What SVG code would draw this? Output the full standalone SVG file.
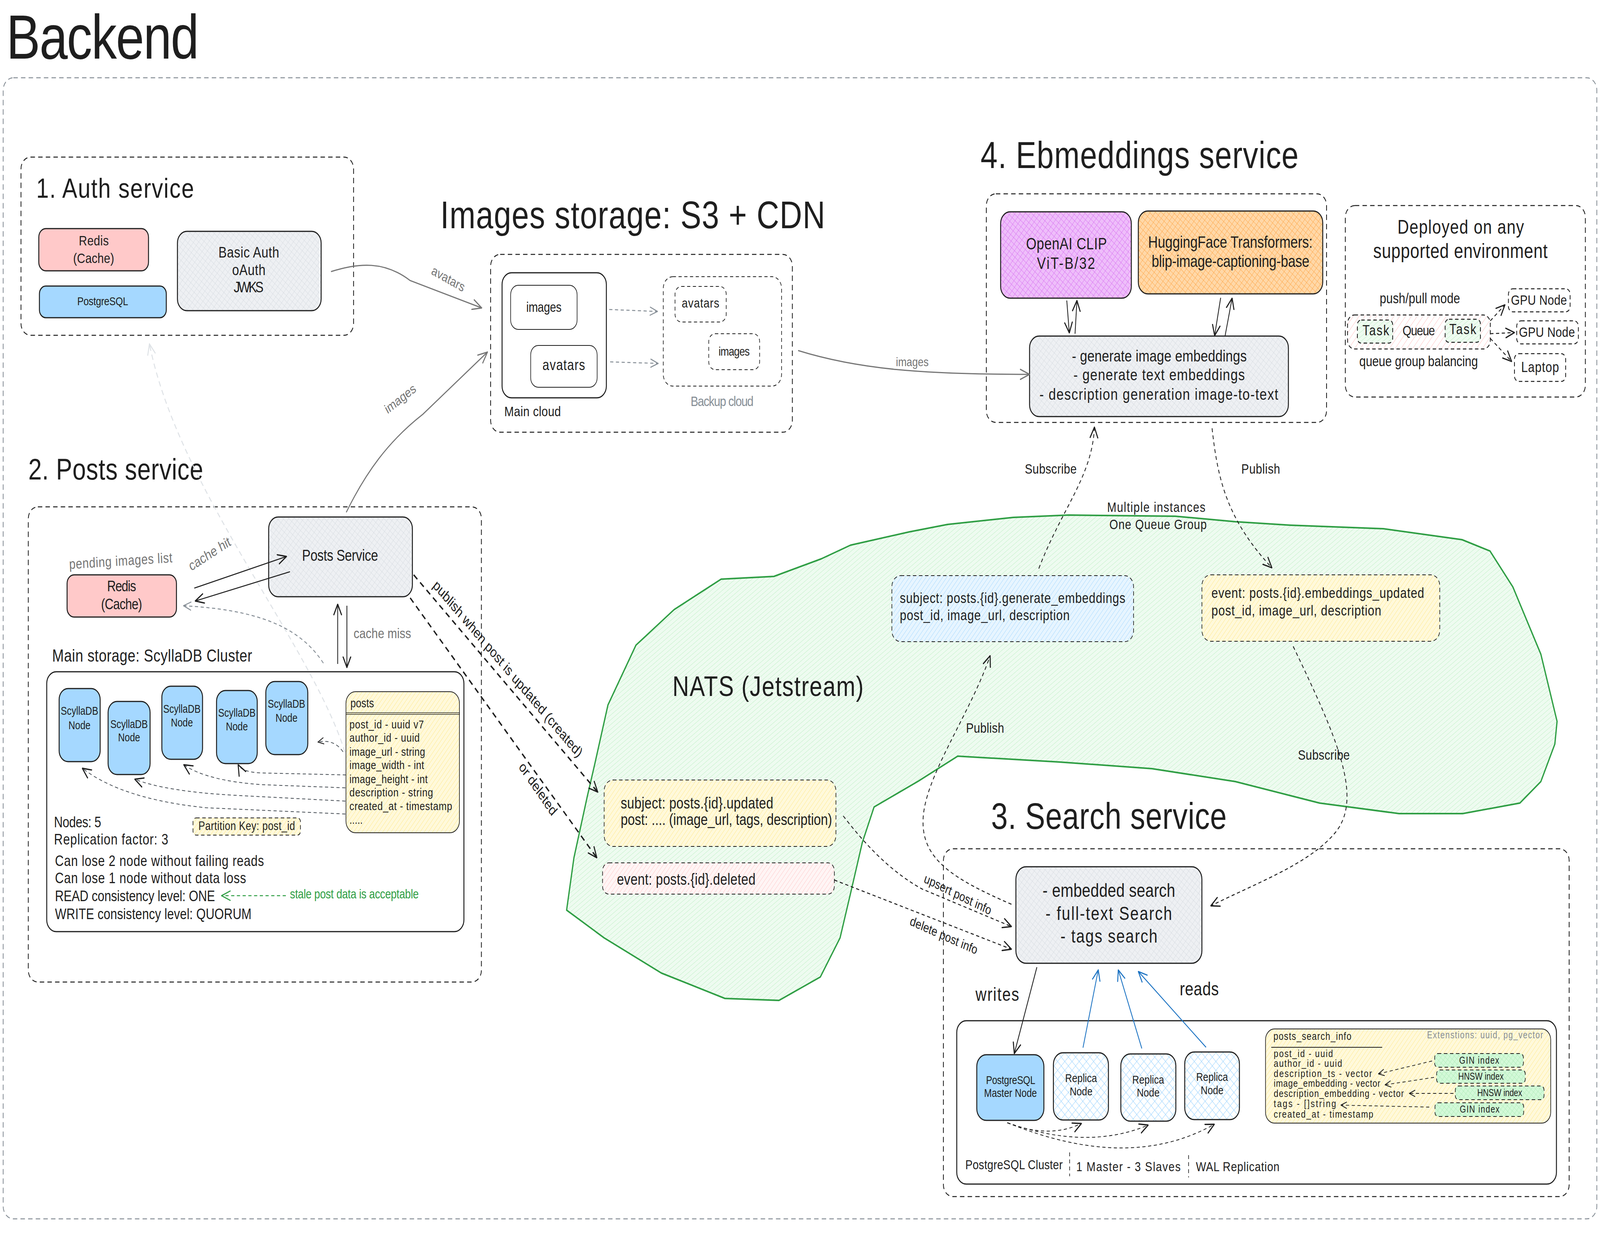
<svg xmlns="http://www.w3.org/2000/svg" width="5032" height="3168" viewBox="0 0 5032 3168" preserveAspectRatio="none" style="width:100%;height:3168px;display:block">
<style>
.t{font-family:"Liberation Sans",Arial,sans-serif;fill:#1e1e1e}
.g{fill:#757575}
.m{text-anchor:middle}
.box{stroke:#1e1e1e;stroke-width:3}
.cont{fill:none;stroke:#1e1e1e;stroke-width:2.5;stroke-dasharray:14 10}
.dbox{stroke:#1e1e1e;stroke-width:2.5;stroke-dasharray:11 8}
.ck{fill:none;stroke:#1e1e1e;stroke-width:2.5}
.cg{fill:none;stroke:#757575;stroke-width:3}
.cgd{fill:none;stroke:#868e96;stroke-width:2.5;stroke-dasharray:10 8}
.cd{fill:none;stroke:#1e1e1e;stroke-width:4;stroke-dasharray:16 12}
.cdt{fill:none;stroke:#1e1e1e;stroke-width:2.5;stroke-dasharray:10 8}
.cb{fill:none;stroke:#1971c2;stroke-width:2.5}
</style>
<defs>
<marker id="aK" viewBox="0 0 20 20" refX="19" refY="10" markerWidth="30" markerHeight="30" orient="auto" markerUnits="userSpaceOnUse"><path d="M1,2 L19,10 L1,18" fill="none" stroke="#1e1e1e" stroke-width="2.2" stroke-dasharray="none" stroke-linecap="round" stroke-linejoin="round"/></marker>
<marker id="aKs" viewBox="0 0 20 20" refX="19" refY="10" markerWidth="20" markerHeight="20" orient="auto" markerUnits="userSpaceOnUse"><path d="M1,2 L19,10 L1,18" fill="none" stroke="#1e1e1e" stroke-width="2.2" stroke-dasharray="none" stroke-linecap="round"/></marker>
<marker id="aG" viewBox="0 0 20 20" refX="19" refY="10" markerWidth="32" markerHeight="32" orient="auto" markerUnits="userSpaceOnUse"><path d="M1,2 L19,10 L1,18" fill="none" stroke="#757575" stroke-width="2" stroke-dasharray="none" stroke-linecap="round"/></marker>
<marker id="aGd" viewBox="0 0 20 20" refX="19" refY="10" markerWidth="26" markerHeight="26" orient="auto" markerUnits="userSpaceOnUse"><path d="M1,2 L19,10 L1,18" fill="none" stroke="#868e96" stroke-width="2" stroke-dasharray="none" stroke-linecap="round"/></marker>
<marker id="aB" viewBox="0 0 20 20" refX="19" refY="10" markerWidth="30" markerHeight="30" orient="auto" markerUnits="userSpaceOnUse"><path d="M1,2 L19,10 L1,18" fill="none" stroke="#1971c2" stroke-width="2" stroke-dasharray="none" stroke-linecap="round"/></marker>
<marker id="aGr" viewBox="0 0 20 20" refX="19" refY="10" markerWidth="30" markerHeight="30" orient="auto" markerUnits="userSpaceOnUse"><path d="M1,2 L19,10 L1,18" fill="none" stroke="#2f9e44" stroke-width="2" stroke-dasharray="none" stroke-linecap="round"/></marker>
<marker id="aL" viewBox="0 0 20 20" refX="19" refY="10" markerWidth="30" markerHeight="30" orient="auto" markerUnits="userSpaceOnUse"><path d="M1,2 L19,10 L1,18" fill="none" stroke="#dee2e6" stroke-width="2" stroke-dasharray="none" stroke-linecap="round"/></marker>
<pattern id="hGray" width="12" height="12" patternUnits="userSpaceOnUse" patternTransform="rotate(40)"><rect width="12" height="12" fill="#eef0f3"/><path d="M0,0V12M0,0H12" stroke="#d3d8de" stroke-width="1.5"/></pattern>
<pattern id="hPur" width="12" height="12" patternUnits="userSpaceOnUse" patternTransform="rotate(40)"><rect width="12" height="12" fill="#eebefa"/><path d="M0,0V12M0,0H12" stroke="#da77f2" stroke-width="2"/></pattern>
<pattern id="hOr" width="12" height="12" patternUnits="userSpaceOnUse" patternTransform="rotate(40)"><rect width="12" height="12" fill="#ffd8a8"/><path d="M0,0V12M0,0H12" stroke="#ffa94d" stroke-width="2"/></pattern>
<pattern id="hYel" width="10" height="10" patternUnits="userSpaceOnUse" patternTransform="rotate(40)"><rect width="10" height="10" fill="#fff9db"/><path d="M0,0V10" stroke="#ffe98c" stroke-width="2"/></pattern>
<pattern id="hBlue" width="10" height="10" patternUnits="userSpaceOnUse" patternTransform="rotate(40)"><rect width="10" height="10" fill="#e7f5ff"/><path d="M0,0V10" stroke="#a5d8ff" stroke-width="2"/></pattern>
<pattern id="hPink" width="10" height="10" patternUnits="userSpaceOnUse" patternTransform="rotate(40)"><rect width="10" height="10" fill="#fff5f5"/><path d="M0,0V10" stroke="#ffc9c9" stroke-width="2"/></pattern>
<pattern id="hPinkL" width="14" height="14" patternUnits="userSpaceOnUse" patternTransform="rotate(40)"><rect width="14" height="14" fill="#ffffff"/><path d="M0,0V14" stroke="#ffa8a8" stroke-width="1.5"/></pattern>
<pattern id="hGreen" width="10" height="10" patternUnits="userSpaceOnUse" patternTransform="rotate(55)"><rect width="10" height="10" fill="#eefbf0"/><path d="M0,0V10" stroke="#c3f0c9" stroke-width="2"/></pattern>
<pattern id="hGreenB" width="10" height="10" patternUnits="userSpaceOnUse" patternTransform="rotate(40)"><rect width="10" height="10" fill="#d3f9d8"/><path d="M0,0V10M0,0H10" stroke="#a9e9b3" stroke-width="1.5"/></pattern>
<pattern id="hRep" width="16" height="16" patternUnits="userSpaceOnUse" patternTransform="rotate(45)"><rect width="16" height="16" fill="#ffffff"/><path d="M0,0V16M0,0H16" stroke="#a5d8ff" stroke-width="2.5"/></pattern>
</defs>
<rect width="5032" height="3168" fill="#ffffff"/>

<g id="title"><text class="t" x="20" y="150" font-size="160" textLength="606">Backend</text></g>
<g id="backend-container"><rect x="10" y="199" width="5012" height="2920" rx="32" fill="none" stroke="#868e96" stroke-width="2.5" stroke-dasharray="14 10"/></g>

<!-- 1. Auth service -->
<g id="auth-service">
<rect class="cont" x="66" y="402" width="1046" height="456" rx="30"/>
<text class="t" x="114" y="506" font-size="71" textLength="496">1. Auth service</text>
</g>
<g id="auth-redis"><rect class="box" x="122" y="585" width="345" height="108" rx="22" fill="#ffc9c9"/>
<text class="t" x="248" y="628" font-size="36" textLength="94">Redis</text>
<text class="t" x="230" y="673" font-size="36" textLength="129">(Cache)</text></g>
<g id="auth-postgres"><rect class="box" x="124" y="732" width="399" height="81" rx="20" fill="#a5d8ff"/>
<text class="t" x="243" y="781" font-size="30" textLength="160">PostgreSQL</text></g>
<g id="auth-basic"><rect class="box" x="558" y="592" width="452" height="203" rx="30" fill="url(#hGray)"/>
<text class="t" x="687" y="659" font-size="39" textLength="191">Basic Auth</text>
<text class="t" x="730" y="704" font-size="39" textLength="105">oAuth</text>
<text class="t" x="735" y="748" font-size="39" textLength="94">JWKS</text></g>

<!-- Images storage -->
<g id="images-storage">
<text class="t" x="1385" y="584" font-size="98" textLength="1210">Images storage: S3 + CDN</text>
<rect class="cont" x="1543" y="651" width="949" height="455" rx="30"/>
</g>
<g id="main-cloud"><rect class="box" x="1579" y="698" width="328" height="320" rx="30" fill="#fff"/>
<text class="t" x="1586" y="1065" font-size="36" textLength="178">Main cloud</text></g>
<g id="main-images"><rect x="1606" y="730" width="209" height="113" rx="24" fill="#fff" stroke="#1e1e1e" stroke-width="2"/>
<text class="t" x="1655" y="798" font-size="35" textLength="111">images</text></g>
<g id="main-avatars"><rect x="1669" y="884" width="209" height="107" rx="24" fill="#fff" stroke="#1e1e1e" stroke-width="2"/>
<text class="t" x="1706" y="947" font-size="38" textLength="134">avatars</text></g>
<g id="backup-cloud"><rect x="2086" y="708" width="372" height="280" rx="30" fill="none" stroke="#1e1e1e" stroke-width="2" stroke-dasharray="10 8"/>
<text class="t" x="2172" y="1039" font-size="36" style="fill:#868e96" textLength="198">Backup cloud</text></g>
<g id="backup-avatars"><rect x="2123" y="733" width="161" height="91" rx="20" fill="#fff" stroke="#1e1e1e" stroke-width="2" stroke-dasharray="10 8"/>
<text class="t" x="2144" y="787" font-size="34" textLength="118">avatars</text></g>
<g id="backup-images"><rect x="2229" y="854" width="160" height="92" rx="20" fill="#fff" stroke="#1e1e1e" stroke-width="2" stroke-dasharray="10 8"/>
<text class="t" x="2260" y="910" font-size="32" textLength="98">images</text></g>

<!-- 4. Embeddings service -->
<g id="embeddings-service">
<text class="t" x="3084" y="430" font-size="96" textLength="1000">4. Ebmeddings service</text>
<rect class="cont" x="3102" y="496" width="1070" height="585" rx="30"/>
</g>
<g id="openai-clip"><rect class="box" x="3147" y="542" width="411" height="221" rx="30" fill="url(#hPur)"/>
<text class="t" x="3227" y="638" font-size="42" textLength="254">OpenAI CLIP</text>
<text class="t" x="3261" y="688" font-size="42" textLength="183">ViT-B/32</text></g>
<g id="huggingface"><rect class="box" x="3580" y="540" width="580" height="212" rx="30" fill="url(#hOr)"/>
<text class="t" x="3611" y="634" font-size="42" textLength="517">HuggingFace Transformers:</text>
<text class="t" x="3622" y="683" font-size="42" textLength="496">blip-image-captioning-base</text></g>
<g id="embeddings-worker"><rect class="box" x="3238" y="860" width="814" height="206" rx="30" fill="url(#hGray)"/>
<text class="t" x="3371" y="925" font-size="41" textLength="550">- generate image embeddings</text>
<text class="t" x="3376" y="973" font-size="41" textLength="539">- generate text embeddings</text>
<text class="t" x="3269" y="1023" font-size="41" textLength="751">- description generation image-to-text</text></g>

<!-- Deployed env -->
<g id="deployed-env">
<rect class="cont" x="4231" y="526" width="755" height="490" rx="30"/>
<text class="t" x="4395" y="598" font-size="50" textLength="398">Deployed on any</text>
<text class="t" x="4319" y="660" font-size="52" textLength="548">supported environment</text>
<text class="t" x="4339" y="776" font-size="37" textLength="253">push/pull mode</text>
<text class="t" x="4275" y="937" font-size="37" textLength="373">queue group balancing</text>
</g>
<g id="queue"><rect class="dbox" x="4238" y="806" width="449" height="87" rx="22" fill="url(#hPinkL)"/>
<text class="t" x="4411" y="858" font-size="36" textLength="102">Queue</text></g>
<g id="task-1"><rect class="dbox" x="4269" y="819" width="111" height="59" rx="12" fill="url(#hGreen)"/>
<text class="t" x="4285" y="858" font-size="37" textLength="84">Task</text></g>
<g id="task-2"><rect class="dbox" x="4545" y="817" width="111" height="59" rx="12" fill="url(#hGreen)"/>
<text class="t" x="4558" y="855" font-size="37" textLength="85">Task</text></g>
<g id="gpu-node-1"><rect class="dbox" x="4744" y="739" width="194" height="59" rx="14" fill="#fff"/>
<text class="t" x="4752" y="780" font-size="36" textLength="176">GPU Node</text></g>
<g id="gpu-node-2"><rect class="dbox" x="4770" y="821" width="194" height="59" rx="14" fill="#fff"/>
<text class="t" x="4777" y="862" font-size="36" textLength="176">GPU Node</text></g>
<g id="laptop"><rect class="dbox" x="4763" y="905" width="161" height="71" rx="14" fill="#fff"/>
<text class="t" x="4784" y="952" font-size="37" textLength="119">Laptop</text></g>

<!-- 2. Posts service -->
<g id="posts-service-area">
<text class="t" x="89" y="1227" font-size="76" textLength="550">2. Posts service</text>
<rect class="cont" x="89" y="1297" width="1425" height="1216" rx="30"/>
</g>
<g id="posts-service"><rect class="box" x="845" y="1323" width="452" height="204" rx="30" fill="url(#hGray)"/>
<text class="t" x="950" y="1435" font-size="40" textLength="239">Posts Service</text></g>
<g id="posts-redis"><rect class="box" x="211" y="1471" width="344" height="108" rx="22" fill="#ffc9c9"/>
<text class="t" x="337" y="1513" font-size="38" textLength="91">Redis</text>
<text class="t" x="318" y="1559" font-size="38" textLength="129">(Cache)</text>
<text class="t g" x="218" y="1456" font-size="36" textLength="325" transform="rotate(-3 218 1456)">pending images list</text></g>
<g id="scylla-cluster"><text class="t" x="164" y="1693" font-size="44" textLength="629">Main storage: ScyllaDB Cluster</text>
<rect class="box" x="147" y="1719" width="1312" height="665" rx="30" fill="#fff"/>
<text class="t" x="170" y="2117" font-size="38" textLength="148">Nodes: 5</text>
<text class="t" x="170" y="2161" font-size="38" textLength="359">Replication factor: 3</text>
<text class="t" x="173" y="2216" font-size="38" textLength="657">Can lose 2 node without failing reads</text>
<text class="t" x="173" y="2260" font-size="38" textLength="601">Can lose 1 node without data loss</text>
<text class="t" x="173" y="2306" font-size="38" textLength="503">READ consistency level: ONE</text>
<text class="t" x="173" y="2352" font-size="38" textLength="618">WRITE consistency level: QUORUM</text>
<text class="t" x="912" y="2299" font-size="33" style="fill:#2f9e44" textLength="405">stale post data is acceptable</text></g>
<g id="scylla-node-1"><rect class="box" x="186" y="1762" width="129" height="187" rx="28" fill="#a5d8ff"/>
<text class="t m" x="250" y="1829" font-size="29">ScyllaDB</text><text class="t m" x="250" y="1866" font-size="29">Node</text></g>
<g id="scylla-node-2"><rect class="box" x="340" y="1795" width="132" height="187" rx="28" fill="#a5d8ff"/>
<text class="t m" x="406" y="1863" font-size="29">ScyllaDB</text><text class="t m" x="406" y="1897" font-size="29">Node</text></g>
<g id="scylla-node-3"><rect class="box" x="509" y="1756" width="128" height="187" rx="28" fill="#a5d8ff"/>
<text class="t m" x="572" y="1824" font-size="29">ScyllaDB</text><text class="t m" x="572" y="1859" font-size="29">Node</text></g>
<g id="scylla-node-4"><rect class="box" x="681" y="1767" width="128" height="187" rx="28" fill="#a5d8ff"/>
<text class="t m" x="745" y="1834" font-size="29">ScyllaDB</text><text class="t m" x="745" y="1869" font-size="29">Node</text></g>
<g id="scylla-node-5"><rect class="box" x="836" y="1744" width="132" height="187" rx="28" fill="#a5d8ff"/>
<text class="t m" x="901" y="1811" font-size="29">ScyllaDB</text><text class="t m" x="901" y="1847" font-size="29">Node</text></g>
<g id="posts-table"><rect x="1088" y="1770" width="357" height="361" rx="30" fill="url(#hYel)" stroke="#1e1e1e" stroke-width="2"/>
<path d="M1088,1824H1445M1088,1828H1445" stroke="#1e1e1e" stroke-width="1.5"/>
<text class="t" x="1102" y="1810" font-size="31">posts</text>
<text class="t" x="1099" y="1864" font-size="30" textLength="234">post_id - uuid v7</text>
<text class="t" x="1099" y="1898" font-size="30" textLength="221">author_id - uuid</text>
<text class="t" x="1099" y="1934" font-size="30" textLength="238">image_url - string</text>
<text class="t" x="1099" y="1968" font-size="30" textLength="235">image_width - int</text>
<text class="t" x="1099" y="2004" font-size="30" textLength="246">image_height - int</text>
<text class="t" x="1099" y="2038" font-size="30" textLength="263">description - string</text>
<text class="t" x="1099" y="2073" font-size="30" textLength="323">created_at - timestamp</text>
<text class="t" x="1099" y="2108" font-size="30">.....</text></g>
<g id="partition-key"><rect class="dbox" x="607" y="2093" width="338" height="44" rx="10" fill="url(#hYel)" style="stroke-width:2"/>
<text class="t" x="624" y="2124" font-size="31" textLength="304">Partition Key: post_id</text></g>

<!-- NATS -->
<g id="nats">
<path d="M1782,2329 L1805,2195 L1847,2038 L1870,1957 L1912,1804 L2000,1651 L2120,1560 L2268,1482 L2434,1475 L2583,1430 L2675,1395 L2860,1361 L2980,1342 L3187,1324 L3361,1318 L3696,1321 L3885,1335 L4060,1344 L4351,1353 L4598,1381 L4686,1410 L4758,1502 L4846,1674 L4897,1846 L4890,1904 L4846,2000 L4780,2055 L4600,2082 L4400,2082 L4150,2055 L3885,2000 L3623,1967 L3332,1950 L3012,1935 L2888,1999 L2749,2065 L2712,2156 L2675,2286 L2642,2400 L2580,2500 L2450,2560 L2280,2555 L2080,2490 L1900,2400 Z" fill="url(#hGreen)" stroke="#2f9e44" stroke-width="4" stroke-linejoin="round"/>
<text class="t" x="2115" y="1781" font-size="72" textLength="601">NATS (Jetstream)</text>
<text class="t" x="3482" y="1310" font-size="35" textLength="309">Multiple instances</text>
<text class="t" x="3489" y="1354" font-size="35" textLength="306">One Queue Group</text>
</g>
<g id="nats-updated"><rect class="dbox" x="1900" y="1996" width="729" height="170" rx="28" fill="url(#hYel)" style="stroke-width:2"/>
<text class="t" x="1952" y="2069" font-size="40" textLength="480">subject: posts.{id}.updated</text>
<text class="t" x="1952" y="2111" font-size="40" textLength="665">post: .... (image_url, tags, description)</text></g>
<g id="nats-deleted"><rect class="dbox" x="1895" y="2208" width="729" height="80" rx="20" fill="url(#hPink)" style="stroke-width:2"/>
<text class="t" x="1940" y="2264" font-size="40" textLength="436">event: posts.{id}.deleted</text></g>
<g id="nats-generate"><rect class="dbox" x="2805" y="1473" width="760" height="169" rx="28" fill="url(#hBlue)" style="stroke-width:2"/>
<text class="t" x="2830" y="1543" font-size="37" textLength="709">subject: posts.{id}.generate_embeddings</text>
<text class="t" x="2830" y="1587" font-size="37" textLength="534">post_id, image_url, description</text></g>
<g id="nats-embeddings-updated"><rect class="dbox" x="3780" y="1471" width="748" height="170" rx="28" fill="url(#hYel)" style="stroke-width:2"/>
<text class="t" x="3810" y="1530" font-size="37" textLength="669">event: posts.{id}.embeddings_updated</text>
<text class="t" x="3810" y="1575" font-size="37" textLength="534">post_id, image_url, description</text></g>

<!-- 3. Search service -->
<g id="search-service-area">
<text class="t" x="3117" y="2121" font-size="94" textLength="741">3. Search service</text>
<rect class="cont" x="2967" y="2172" width="1968" height="890" rx="30"/>
<text class="t" x="3068" y="2561" font-size="48" textLength="137">writes</text>
<text class="t" x="3710" y="2547" font-size="48" textLength="123">reads</text>
</g>
<g id="search-service"><rect class="box" x="3195" y="2218" width="585" height="247" rx="32" fill="url(#hGray)"/>
<text class="t" x="3279" y="2295" font-size="48" textLength="417">- embedded search</text>
<text class="t" x="3288" y="2354" font-size="48" textLength="398">- full-text Search</text>
<text class="t" x="3335" y="2412" font-size="48" textLength="305">- tags search</text></g>
<g id="postgres-cluster"><rect class="box" x="3009" y="2612" width="1886" height="418" rx="30" fill="#fff"/>
<text class="t" x="3036" y="2992" font-size="34" textLength="306">PostgreSQL Cluster</text>
<text class="t" x="3385" y="2997" font-size="34" textLength="328">1 Master - 3 Slaves</text>
<text class="t" x="3761" y="2997" font-size="34" textLength="263">WAL Replication</text>
<path d="M3364,2949V3010M3738,2956V3013" stroke="#1e1e1e" stroke-width="2" stroke-dasharray="10 8"/></g>
<g id="pg-master"><rect class="box" x="3072" y="2699" width="211" height="168" rx="30" fill="#a5d8ff"/>
<text class="t" x="3101" y="2774" font-size="29" textLength="155">PostgreSQL</text>
<text class="t" x="3095" y="2807" font-size="29" textLength="166">Master Node</text></g>
<g id="pg-replica-1"><rect class="box" x="3313" y="2694" width="173" height="172" rx="30" fill="url(#hRep)"/>
<text class="t m" x="3400" y="2769" font-size="30">Replica</text><text class="t m" x="3400" y="2803" font-size="30">Node</text></g>
<g id="pg-replica-2"><rect class="box" x="3525" y="2697" width="173" height="172" rx="30" fill="url(#hRep)"/>
<text class="t m" x="3611" y="2773" font-size="30">Replica</text><text class="t m" x="3611" y="2806" font-size="30">Node</text></g>
<g id="pg-replica-3"><rect class="box" x="3726" y="2692" width="172" height="173" rx="30" fill="url(#hRep)"/>
<text class="t m" x="3812" y="2766" font-size="30">Replica</text><text class="t m" x="3812" y="2800" font-size="30">Node</text></g>
<g id="posts-search-info"><rect x="3980" y="2633" width="897" height="241" rx="28" fill="url(#hYel)" stroke="#1e1e1e" stroke-width="2"/>
<path d="M3998,2680H4347" stroke="#1e1e1e" stroke-width="2"/>
<text class="t" x="4005" y="2661" font-size="27" textLength="245">posts_search_info</text>
<text class="t" x="4488" y="2657" font-size="25" style="fill:#868e96" textLength="365">Extenstions: uuid, pg_vector</text>
<text class="t" x="4006" y="2705" font-size="26" textLength="186">post_id - uuid</text>
<text class="t" x="4006" y="2730" font-size="26" textLength="215">author_id - uuid</text>
<text class="t" x="4006" y="2756" font-size="26" textLength="309">description_ts - vector</text>
<text class="t" x="4006" y="2781" font-size="26" textLength="335">image_embedding - vector</text>
<text class="t" x="4006" y="2807" font-size="26" textLength="409">description_embedding - vector</text>
<text class="t" x="4006" y="2833" font-size="26" textLength="196">tags - []string</text>
<text class="t" x="4006" y="2860" font-size="26" textLength="313">created_at - timestamp</text></g>
<g id="gin-index-1"><rect class="dbox" x="4512" y="2696" width="279" height="35" rx="10" fill="url(#hGreenB)" style="stroke-width:2"/>
<text class="t" x="4589" y="2722" font-size="25" textLength="126">GIN index</text></g>
<g id="hnsw-index-1"><rect class="dbox" x="4518" y="2738" width="279" height="34" rx="10" fill="url(#hGreenB)" style="stroke-width:2"/>
<text class="t" x="4586" y="2763" font-size="25" textLength="143">HNSW index</text></g>
<g id="hnsw-index-2"><rect class="dbox" x="4577" y="2779" width="279" height="35" rx="10" fill="url(#hGreenB)" style="stroke-width:2"/>
<text class="t" x="4646" y="2805" font-size="25" textLength="141">HNSW index</text></g>
<g id="gin-index-2"><rect class="dbox" x="4513" y="2822" width="279" height="35" rx="10" fill="url(#hGreenB)" style="stroke-width:2"/>
<text class="t" x="4591" y="2847" font-size="25" textLength="125">GIN index</text></g>

<!-- Connectors -->
<g id="connectors">
<path class="cg" d="M1041,695 C1130,672 1210,668 1290,718 L1515,788" marker-end="url(#aG)"/>
<text class="t g m" x="1405" y="724" font-size="34" transform="rotate(25 1405 724)">avatars</text>
<path class="cg" d="M1089,1311 C1150,1210 1220,1130 1330,1060 L1533,901" marker-end="url(#aG)"/>
<text class="t g m" x="1265" y="1030" font-size="34" transform="rotate(-33 1265 1030)">images</text>
<path class="cgd" d="M1916,792 L2068,797" marker-end="url(#aGd)"/>
<path class="cgd" d="M1919,926 L2070,930" marker-end="url(#aGd)"/>
<path class="cg" d="M2510,897 C2700,945 2900,958 3238,958" marker-end="url(#aG)"/>
<text class="t g m" x="2869" y="937" font-size="32">images</text>
<path class="ck" d="M3355,769 L3363,852" marker-end="url(#aK)"/>
<path class="ck" d="M3381,854 L3387,769" marker-end="url(#aK)"/>
<path class="ck" d="M3839,762 L3820,859" marker-end="url(#aK)"/>
<path class="ck" d="M3853,859 L3875,763" marker-end="url(#aK)"/>
<path class="cdt" d="M4687,821 L4733,780" marker-end="url(#aK)"/>
<path class="cdt" d="M4687,854 L4763,851" marker-end="url(#aK)"/>
<path class="cdt" d="M4687,866 L4754,925" marker-end="url(#aK)"/>
<path d="M1085,1925 C980,1650 560,1250 470,880" fill="none" stroke="#dee2e6" stroke-width="3" stroke-dasharray="14 10" marker-end="url(#aL)"/>
<path class="ck" d="M611,1505 L901,1424" marker-end="url(#aK)"/>
<path class="ck" d="M912,1463 L614,1538" marker-end="url(#aK)"/>
<text class="t g m" x="665" y="1428" font-size="36" transform="rotate(-28 665 1428)">cache hit</text>
<path class="ck" d="M1062,1699 L1062,1546" marker-end="url(#aK)"/>
<path class="ck" d="M1091,1550 L1091,1708" marker-end="url(#aK)"/>
<text class="t g" x="1112" y="1633" font-size="36" textLength="181">cache miss</text>
<path class="cgd" d="M1017,1697 C940,1600 800,1560 577,1550" marker-end="url(#aGd)"/>
<path d="M1079,1924 Q1050,1890 1000,1899" fill="none" stroke="#495057" stroke-width="2" stroke-dasharray="10 8" marker-end="url(#aKs)"/>
<path d="M1088,1983 L824,1978 Q760,1976 749,1957" fill="none" stroke="#495057" stroke-width="2" stroke-dasharray="10 8" marker-end="url(#aK)"/>
<path d="M1086,2016 L824,2008 Q650,1998 578,1957" fill="none" stroke="#495057" stroke-width="2" stroke-dasharray="10 8" marker-end="url(#aK)"/>
<path d="M1086,2050 L736,2035 Q520,2025 424,1994" fill="none" stroke="#495057" stroke-width="2" stroke-dasharray="10 8" marker-end="url(#aK)"/>
<path d="M1086,2083 L648,2067 Q384,2045 259,1966" fill="none" stroke="#495057" stroke-width="2" stroke-dasharray="10 8" marker-end="url(#aK)"/>
<path d="M899,2292 L697,2292" fill="none" stroke="#2f9e44" stroke-width="2.5" stroke-dasharray="10 8" marker-end="url(#aGr)"/>
<path class="cd" d="M1301,1471 L1880,2027" marker-end="url(#aK)"/>
<path class="cd" d="M1290,1530 L1877,2195" marker-end="url(#aK)"/>
<text class="t m" x="1597" y="1724" font-size="37" transform="rotate(43.8 1597 1712)">publish when post is updated (created)</text>
<text class="t m" x="1692" y="2031" font-size="37" transform="rotate(50 1692 2019)">or deleted</text>
<path class="cdt" d="M3267,1455 C3340,1300 3435,1220 3442,1093" marker-end="url(#aK)"/>
<text class="t" x="3223" y="1212" font-size="36" textLength="163">Subscribe</text>
<path class="cdt" d="M3812,1096 C3830,1230 3860,1330 4000,1453" marker-end="url(#aK)"/>
<text class="t" x="3904" y="1212" font-size="36" textLength="122">Publish</text>
<path class="cdt" d="M4067,1654 C4200,1880 4290,2040 4200,2130 C4120,2210 3950,2260 3808,2318" marker-end="url(#aK)"/>
<text class="t" x="4082" y="1944" font-size="36" textLength="163">Subscribe</text>
<path class="cdt" d="M3181,2314 C3000,2250 2900,2200 2903,2100 C2905,1990 3050,1830 3114,1678" marker-end="url(#aK)"/>
<text class="t" x="3038" y="1875" font-size="36" textLength="120">Publish</text>
<path class="cdt" d="M2652,2088 C2720,2160 2800,2230 2900,2275 L3181,2371" marker-end="url(#aK)"/>
<text class="t m" x="3012" y="2300" font-size="33" transform="rotate(22 3012 2290)">upsert post info</text>
<path class="cdt" d="M2624,2252 L3181,2429" marker-end="url(#aK)"/>
<text class="t m" x="2968" y="2405" font-size="33" transform="rotate(20 2968 2395)">delete post info</text>
<path class="ck" d="M3261,2475 L3190,2696" marker-end="url(#aK)"/>
<path class="cb" d="M3406,2681 L3454,2482" marker-end="url(#aB)"/>
<path class="cb" d="M3591,2683 L3517,2482" marker-end="url(#aB)"/>
<path class="cb" d="M3793,2680 L3580,2486" marker-end="url(#aB)"/>
<path class="cdt" style="stroke-width:2" d="M3168,2873 Q3300,2915 3401,2875" marker-end="url(#aK)"/>
<path class="cdt" style="stroke-width:2" d="M3168,2873 Q3420,2945 3611,2879" marker-end="url(#aK)"/>
<path class="cdt" style="stroke-width:2" d="M3168,2873 Q3550,3000 3819,2877" marker-end="url(#aK)"/>
<path class="cdt" style="stroke-width:1.8" d="M4504,2715 L4335,2748" marker-end="url(#aKs)"/>
<path class="cdt" style="stroke-width:1.8" d="M4510,2757 L4356,2776" marker-end="url(#aKs)"/>
<path class="cdt" style="stroke-width:1.8" d="M4571,2798 L4432,2798" marker-end="url(#aKs)"/>
<path class="cdt" style="stroke-width:1.8" d="M4495,2833 L4217,2828" marker-end="url(#aKs)"/>
</g>
</svg>
